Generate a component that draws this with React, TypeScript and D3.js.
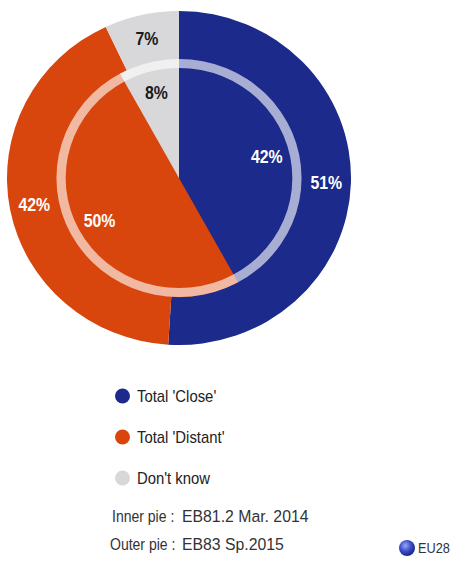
import React from "react";
import * as d3 from "d3";

const categories = ["Total 'Close'", "Total 'Distant'", "Don't know"];
const outerValues = [51, 42, 7];
const innerValues = [42, 50, 8];
const colors = ["#1B2A8B", "#D9460D", "#D8D8DA"];
const labelColors = ["#ffffff", "#ffffff", "#1a1a1a"];
const footLabels = ["Inner pie :", "Outer pie :"];
const footValues = ["EB81.2 Mar. 2014", "EB83 Sp.2015"];
const zoneLabel = "EU28";

const W = 468;
const H = 579;
const cx = 179;
const cy = 178;
const sx = 1.03;
const R_OUT = 167;
const R_IN = 119;
const RING_W = 9;

export default function App() {
  const pie = d3.pie<number>().sort(null).value((d) => d).startAngle(0).endAngle(2 * Math.PI);
  const outerArcs = pie(outerValues);
  const innerArcs = pie(innerValues);
  const outerArc = d3.arc<d3.PieArcDatum<number>>().innerRadius(0).outerRadius(R_OUT);
  const innerArc = d3.arc<d3.PieArcDatum<number>>().innerRadius(0).outerRadius(R_IN);
  const ringArc = d3.arc()({
    innerRadius: R_IN - RING_W,
    outerRadius: R_IN,
    startAngle: 0,
    endAngle: 2 * Math.PI,
  } as any) as string;
  const outerLabelArc = d3.arc<d3.PieArcDatum<number>>().innerRadius(143).outerRadius(143);
  const innerLabelArc = d3.arc<d3.PieArcDatum<number>>().innerRadius(88).outerRadius(88);

  const legendY = d3.scaleLinear().domain([0, 1]).range([396, 437]);

  const label = (a: d3.PieArcDatum<number>, i: number, arcGen: any, key: string) => {
    const [x, y] = arcGen.centroid(a);
    return (
      <text
        key={key}
        transform={`translate(${x * sx},${y}) scale(0.88,1)`}
        dy="0.36em"
        textAnchor="middle"
        fontSize={18}
        fontWeight="bold"
        fill={labelColors[i]}
      >
        {a.data}%
      </text>
    );
  };

  return (
    <svg
      width={W}
      height={H}
      style={{ position: "absolute", left: 0, top: 0, background: "#fff" }}
      fontFamily="'Liberation Sans', Arial, sans-serif"
    >
      <g transform={`translate(${cx},${cy}) scale(${sx},1)`}>
        {outerArcs.map((a, i) => (
          <path key={"o" + i} d={outerArc(a) as string} fill={colors[i]} />
        ))}
        {innerArcs.map((a, i) => (
          <path key={"i" + i} d={innerArc(a) as string} fill={colors[i]} />
        ))}
        <path d={ringArc} fill="#ffffff" fillOpacity={0.62} />
      </g>
      <g transform={`translate(${cx},${cy})`}>
        {outerArcs.map((a, i) => label(a, i, outerLabelArc, "ol" + i))}
        {innerArcs.map((a, i) => label(a, i, innerLabelArc, "il" + i))}
      </g>
      {categories.map((c, i) => (
        <g key={"lg" + i} transform={`translate(0,${legendY(i)})`}>
          <circle cx={122.5} cy={0} r={7.5} fill={colors[i]} />
          <text transform="translate(137,6) scale(0.93,1)" fontSize={16} fill="#222">
            {c}
          </text>
        </g>
      ))}
      {footLabels.map((f, i) => (
        <g key={"fn" + i}>
          <text transform={`translate(${112 - i * 2},${522 + i * 28}) scale(0.85,1)`} fontSize={16.5} fill="#333">
            {f}
          </text>
          <text transform={`translate(182,${522 + i * 28}) scale(0.93,1)`} fontSize={17} fill="#333">
            {footValues[i]}
          </text>
        </g>
      ))}
      <defs>
        <radialGradient id="globe" cx="40%" cy="35%" r="65%">
          <stop offset="0%" stopColor="#9aa8f0" />
          <stop offset="55%" stopColor="#3a4fc8" />
          <stop offset="100%" stopColor="#1a2488" />
        </radialGradient>
      </defs>
      <circle cx={407} cy={548} r={8} fill="url(#globe)" />
      <text transform="translate(418,553) scale(0.85,1)" fontSize={15} fill="#333">
        {zoneLabel}
      </text>
    </svg>
  );
}
